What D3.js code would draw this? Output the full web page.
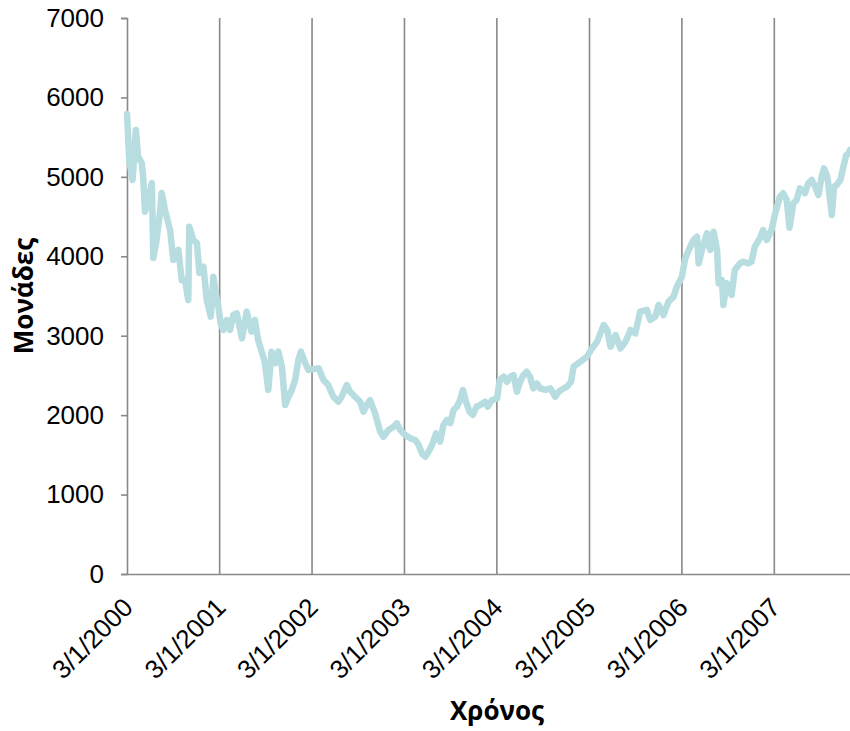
<!DOCTYPE html>
<html>
<head>
<meta charset="utf-8">
<script src="https://cdn.jsdelivr.net/npm/d3@7"></script>
<style>
  html, body { margin: 0; padding: 0; background: #ffffff; }
  svg { display: block; }
</style>
</head>
<body>
<svg id="chart" width="850" height="731"></svg>
<script>
// Index level over time, 2000 – 2007
const dates = [
  "2000-01-03","2000-01-12","2000-01-25","2000-02-07","2000-02-16","2000-03-01","2000-03-07","2000-03-14",
  "2000-03-27","2000-04-10","2000-04-16","2000-04-27","2000-05-12","2000-05-19","2000-06-01","2000-06-21",
  "2000-07-04","2000-07-24","2000-08-06","2000-08-19","2000-09-01","2000-09-05","2000-09-21","2000-10-05",
  "2000-10-15","2000-10-31","2000-11-13","2000-11-29","2000-12-09","2000-12-23","2000-12-29","2001-01-07",
  "2001-01-18","2001-01-31","2001-02-13","2001-02-26","2001-03-12","2001-04-01","2001-04-20","2001-05-09",
  "2001-05-22","2001-06-04","2001-06-24","2001-07-01","2001-07-14","2001-07-27","2001-08-10","2001-08-23",
  "2001-09-06","2001-09-19","2001-10-02","2001-10-15","2001-10-28","2001-11-10","2001-11-20","2001-12-07",
  "2001-12-20","2002-01-09","2002-01-29","2002-02-17","2002-03-08","2002-03-28","2002-04-17","2002-04-30",
  "2002-05-20","2002-06-02","2002-06-22","2002-07-12","2002-07-25","2002-08-07","2002-08-20","2002-09-09",
  "2002-09-29","2002-10-12","2002-11-01","2002-11-21","2002-12-04","2002-12-17","2003-01-06","2003-01-26",
  "2003-02-15","2003-02-28","2003-03-13","2003-03-26","2003-04-08","2003-04-22","2003-05-08","2003-05-24",
  "2003-06-06","2003-06-20","2003-07-03","2003-07-16","2003-07-29","2003-08-11","2003-08-22","2003-09-03",
  "2003-09-17","2003-09-30","2003-10-14","2003-10-29","2003-11-18","2003-11-28","2003-12-15","2004-01-04",
  "2004-01-14","2004-01-30","2004-02-12","2004-02-25","2004-03-09","2004-03-22","2004-04-04","2004-04-17",
  "2004-04-30","2004-05-13","2004-05-26","2004-06-09","2004-06-22","2004-07-12","2004-08-01","2004-08-21",
  "2004-09-03","2004-09-23","2004-10-06","2004-10-22","2004-11-01","2004-11-28","2004-12-24","2005-01-13",
  "2005-02-02","2005-02-28","2005-03-14","2005-03-27","2005-04-16","2005-05-05","2005-05-25","2005-06-14",
  "2005-07-03","2005-07-22","2005-08-18","2005-08-31","2005-09-20","2005-10-03","2005-10-22","2005-11-11",
  "2005-12-01","2005-12-14","2006-01-03","2006-01-16","2006-02-05","2006-02-18","2006-03-04","2006-03-10",
  "2006-03-23","2006-04-12","2006-04-25","2006-05-08","2006-05-22","2006-05-28","2006-06-10","2006-06-16",
  "2006-06-29","2006-07-12","2006-07-18","2006-07-31","2006-08-20","2006-09-02","2006-09-22","2006-10-05",
  "2006-10-18","2006-11-07","2006-11-20","2006-12-04","2006-12-23","2007-01-05","2007-01-25","2007-02-07",
  "2007-02-21","2007-03-04","2007-03-19","2007-04-01","2007-04-14","2007-05-04","2007-05-17","2007-05-31",
  "2007-06-13","2007-06-26","2007-07-09","2007-07-18","2007-07-29","2007-08-04","2007-08-18","2007-08-27",
  "2007-09-06","2007-09-21","2007-10-03","2007-10-14","2007-10-23","2007-10-29"
];

const values = [
  5790,5212,4960,5590,5254,5175,5002,4561,
  4709,4922,3978,4167,4545,4797,4583,4331,
  3953,4079,3701,3701,3450,4373,4205,4167,
  3790,3869,3450,3240,3743,3450,3365,3150,
  3072,3198,3072,3261,3282,2967,3303,3051,
  3198,2946,2736,2653,2317,2799,2653,2799,
  2610,2128,2232,2317,2442,2694,2799,2653,
  2568,2580,2589,2442,2379,2232,2169,2232,
  2379,2295,2232,2169,2043,2128,2190,2023,
  1791,1728,1813,1854,1897,1813,1750,1708,
  1687,1624,1519,1477,1540,1624,1771,1666,
  1876,1939,1900,2065,2106,2190,2317,2169,
  2043,2002,2106,2128,2169,2106,2190,2212,
  2442,2484,2421,2484,2505,2295,2421,2505,
  2547,2484,2337,2400,2337,2317,2337,2232,
  2295,2337,2358,2421,2610,2673,2736,2841,
  2925,3135,3072,2862,3009,2841,2925,3072,
  3030,3303,3324,3198,3240,3387,3261,3429,
  3492,3618,3743,3974,4121,4205,4247,3911,
  4079,4289,4079,4310,4079,3660,3700,3387,
  3660,3575,3513,3827,3911,3932,3911,3932,
  4121,4226,4331,4205,4331,4520,4750,4793,
  4709,4360,4667,4709,4856,4793,4919,4961,
  4877,4772,5002,5107,5030,4919,4520,4877,
  4898,4961,5128,5275,5296,5338
];

const yTickValues = [0, 1000, 2000, 3000, 4000, 5000, 6000, 7000];
const xTickDates = ["2000-01-03","2001-01-03","2002-01-03","2003-01-03",
                    "2004-01-03","2005-01-03","2006-01-03","2007-01-03"];
const xDomain = ["2000-01-03", "2007-10-29"];

const xTitle = "Χρόνος";
const yTitle = "Μονάδες";

const parse = d3.utcParse("%Y-%m-%d");
const fmt = d3.utcFormat("%-d/%-m/%Y");

const series = dates.map((d, i) => ({ date: parse(d), value: values[i] }));

const svg = d3.select("#chart");
const plot = { left: 127, right: 850, top: 18, bottom: 574 };

const x = d3.scaleUtc()
  .domain(xDomain.map(parse))
  .range([plot.left, plot.right]);

const y = d3.scaleLinear()
  .domain([0, 7000])
  .range([plot.bottom, plot.top]);

const axisColor = "#898989";
const tickFont = "'Liberation Sans', Arial, sans-serif";
const titleFont = "'Open Sans', 'DejaVu Sans', sans-serif";

// vertical year gridlines
svg.append("g")
  .attr("class", "grid")
  .selectAll("line")
  .data(xTickDates.slice(1).map(parse))
  .join("line")
  .attr("x1", d => x(d)).attr("x2", d => x(d))
  .attr("y1", plot.top).attr("y2", plot.bottom)
  .attr("stroke", axisColor)
  .attr("stroke-width", 1.6);

// y axis
const yAxis = svg.append("g")
  .attr("transform", `translate(${plot.left},0)`)
  .call(d3.axisLeft(y).tickValues(yTickValues).tickSize(6).tickPadding(17).tickFormat(d3.format("d")));
yAxis.select(".domain").attr("stroke", axisColor).attr("stroke-width", 1.6);
yAxis.selectAll(".tick line").attr("stroke", axisColor).attr("stroke-width", 1.6);
yAxis.selectAll(".tick text")
  .attr("fill", "#000")
  .style("font-family", tickFont)
  .style("font-size", "26px");

// x axis
const xAxis = svg.append("g")
  .attr("transform", `translate(0,${plot.bottom})`)
  .call(d3.axisBottom(x).tickValues(xTickDates.map(parse)).tickSize(0).tickFormat(fmt));
xAxis.select(".domain").attr("stroke", axisColor).attr("stroke-width", 1.6);
xAxis.selectAll(".tick text")
  .attr("fill", "#000")
  .style("font-family", tickFont)
  .style("font-size", "26px")
  .attr("text-anchor", "end")
  .attr("y", 0)
  .attr("dy", "0")
  .attr("transform", "translate(7,35) rotate(-45)");

// series line
const line = d3.line()
  .x(d => x(d.date))
  .y(d => y(d.value));

svg.append("path")
  .datum(series)
  .attr("fill", "none")
  .attr("stroke", "#b7dde0")
  .attr("stroke-width", 6.5)
  .attr("stroke-linejoin", "round")
  .attr("stroke-linecap", "round")
  .attr("d", line);

// axis titles
svg.append("text")
  .attr("x", 497)
  .attr("y", 720)
  .attr("text-anchor", "middle")
  .style("font-family", titleFont)
  .style("font-weight", "bold")
  .style("font-size", "26px")
  .attr("fill", "#000")
  .text(xTitle);

svg.append("text")
  .attr("transform", `translate(33,296) rotate(-90)`)
  .attr("text-anchor", "middle")
  .style("font-family", titleFont)
  .style("font-weight", "bold")
  .style("font-size", "26px")
  .attr("fill", "#000")
  .text(yTitle);
</script>
</body>
</html>
